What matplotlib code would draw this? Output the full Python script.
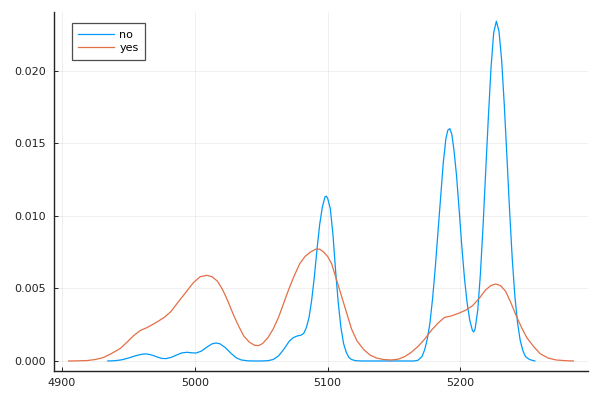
import matplotlib.pyplot as plt
from matplotlib.ticker import FormatStrFormatter

# density curve for "no"
no_x = [4934.5, 4940, 4945, 4950, 4955, 4960, 4963, 4967, 4971, 4975, 4978,
        4982, 4986, 4990, 4994, 4998, 5001, 5005, 5009, 5013, 5016, 5019,
        5023, 5027, 5031, 5035, 5040, 5045, 5050, 5055, 5059, 5063, 5067,
        5071, 5074, 5077, 5080, 5082, 5084, 5086, 5088, 5090, 5092, 5094,
        5096, 5098, 5099, 5100, 5102, 5104, 5106, 5108, 5110, 5112, 5114,
        5116, 5118, 5121, 5125, 5140, 5155, 5165, 5168, 5171, 5173, 5175,
        5177, 5179, 5181, 5183, 5185, 5187, 5189, 5190.5, 5192, 5193.5, 5195,
        5197, 5199, 5201, 5203, 5205, 5207, 5209, 5210, 5211, 5213, 5215,
        5217, 5219, 5221, 5223, 5225, 5227, 5229, 5231, 5233, 5235, 5237,
        5239, 5241, 5243, 5245, 5247, 5249, 5252, 5256]
no_y = [0, 0.00002, 0.00008, 0.0002, 0.00035, 0.00046, 0.00049, 0.00043,
        0.0003, 0.00018, 0.00016, 0.00024, 0.0004, 0.00055, 0.0006, 0.00056,
        0.00055, 0.00068, 0.00095, 0.00118, 0.00124, 0.00118, 0.00092,
        0.00055, 0.00023, 0.00007, 0.00001, 0, 0, 0.00002, 0.0001, 0.00035,
        0.0008, 0.00135, 0.0016, 0.00172, 0.00178, 0.0019, 0.0023, 0.0030,
        0.0042, 0.0058, 0.0077, 0.0094, 0.0106, 0.0113, 0.01135, 0.0112,
        0.0105, 0.0087, 0.0062, 0.0040, 0.0023, 0.0012, 0.0006, 0.00025,
        0.0001, 0.00002, 0, 0, 0, 0, 0.00005, 0.0003, 0.00076, 0.0015,
        0.0026, 0.0043, 0.0064, 0.0088, 0.0112, 0.0136, 0.0153, 0.0159,
        0.0160, 0.0156, 0.0146, 0.0128, 0.0104, 0.0079, 0.0057, 0.0040,
        0.0028, 0.0021, 0.0020, 0.0022, 0.0035, 0.0060, 0.0093, 0.0131,
        0.0168, 0.0202, 0.0226, 0.0234, 0.0227, 0.0207, 0.0176, 0.0140,
        0.0103, 0.0070, 0.0044, 0.0026, 0.0014, 0.0007, 0.0003, 0.0001, 0]

# density curve for "yes"
yes_x = [4905, 4912, 4919, 4925, 4931, 4937, 4944, 4949, 4954, 4959, 4964,
         4970, 4977, 4982, 4987, 4993, 4999, 5004, 5009, 5013, 5017, 5021,
         5025, 5029, 5033, 5037, 5041, 5045, 5048, 5051, 5055, 5059, 5063,
         5067, 5071, 5075, 5079, 5083, 5087, 5091, 5094, 5097, 5100, 5103,
         5106, 5110, 5114, 5118, 5122, 5127, 5132, 5137, 5142, 5148, 5153,
         5158, 5163, 5168, 5173, 5178, 5183, 5188, 5193, 5199, 5204, 5209,
         5214, 5219, 5223, 5226.5, 5230, 5234, 5238, 5242, 5246, 5250, 5255,
         5260, 5266, 5272, 5279, 5285]
yes_y = [0, 0.00001, 0.00003, 0.0001, 0.00023, 0.0005, 0.00087, 0.0013,
         0.00175, 0.0021, 0.0023, 0.0026, 0.0030, 0.0034, 0.0040, 0.0047,
         0.0054, 0.0058, 0.0059, 0.0058, 0.0055, 0.0049, 0.0041, 0.0032,
         0.0024, 0.0017, 0.0013, 0.00108, 0.00106, 0.0012, 0.0016, 0.0022,
         0.0030, 0.0040, 0.0050, 0.0059, 0.0067, 0.0072, 0.0075, 0.0077,
         0.0077, 0.0075, 0.0072, 0.0067, 0.0058, 0.0046, 0.0034, 0.0022,
         0.0014, 0.0008, 0.0004, 0.0002, 0.0001, 0.00007, 0.00012, 0.0003,
         0.0006, 0.0010, 0.0015, 0.0021, 0.0026, 0.0030, 0.0031, 0.0033,
         0.0035, 0.0038, 0.0043, 0.0049, 0.0052, 0.0053, 0.0052, 0.0048,
         0.0040, 0.0031, 0.0023, 0.0016, 0.0010, 0.0005, 0.0002, 0.00007,
         0.00002, 0]

x_ticks = [4900, 5000, 5100, 5200]
y_ticks = [0.000, 0.005, 0.010, 0.015, 0.020]

fig = plt.figure(figsize=(6, 4), dpi=100)
ax = fig.add_axes([0.09, 0.0725, 0.89, 0.8985])

ax.plot(no_x, no_y, color='#009AFA', lw=0.9, label='no')
ax.plot(yes_x, yes_y, color='#E36F47', lw=0.9, label='yes')

# axes look like Plots.jl / GR defaults
ax.set_xlim(4894, 5296)
ax.set_ylim(-0.00069, 0.02406)
ax.set_xticks(x_ticks)
ax.set_yticks(y_ticks)
ax.yaxis.set_major_formatter(FormatStrFormatter('%.3f'))
ax.grid(True, color='#000000', alpha=0.07, lw=0.6)
ax.set_axisbelow(True)
for side in ['top', 'right']:
    ax.spines[side].set_visible(False)
for side in ['left', 'bottom']:
    ax.spines[side].set_color('#222222')
    ax.spines[side].set_linewidth(1.0)
ax.tick_params(axis='y', direction='in', length=3, width=0.7,
               labelsize=8, colors='#222222', pad=6)
ax.tick_params(axis='x', direction='in', length=3, width=0.7,
               labelsize=8, colors='#222222', pad=5)

leg = ax.legend(loc='upper left', bbox_to_anchor=(0.033, 0.968),
                borderaxespad=0, fontsize=8, frameon=True, fancybox=False,
                handlelength=3.25, handletextpad=0.45, borderpad=0.6,
                labelspacing=0.3)
leg.get_frame().set_edgecolor('#222222')
leg.get_frame().set_linewidth(0.9)

fig.savefig('out.png', dpi=100)
